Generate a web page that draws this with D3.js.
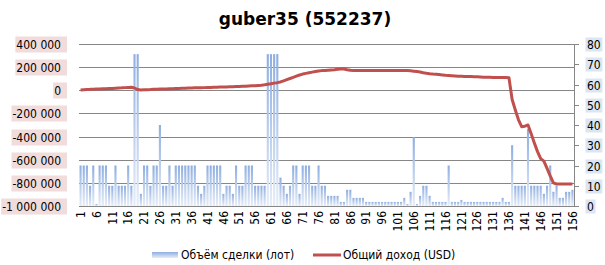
<!DOCTYPE html>
<html lang="ru">
<head>
    <meta charset="UTF-8">
    <title>guber35 (552237)</title>
    <script src="https://cdn.jsdelivr.net/npm/d3@7"></script>
    <style>
        body { margin: 0; background: #fff; }
        svg { width: 605px; height: 265px; display: block; }
        text { font-family: "DejaVu Sans Condensed", "Liberation Sans", sans-serif; font-size: 12px; fill: #000; }
    </style>
</head>
<body>
    <svg></svg>

    <script>
        // объём сделки, лоты (правая ось)
        const volume = [
            20, 20, 20, 10, 20, 1, 20, 20, 20, 10,
            10, 20, 10, 10, 10, 20, 10, 75, 75, 6,
            20, 20, 10, 20, 20, 40, 10, 10, 20, 10,
            20, 20, 20, 20, 20, 20, 20, 10, 6, 10,
            20, 20, 20, 20, 20, 6, 10, 10, 6, 20,
            10, 10, 20, 20, 20, 10, 10, 10, 10, 75,
            75, 75, 75, 14, 10, 6, 10, 20, 20, 6,
            20, 20, 20, 10, 10, 20, 10, 10, 5, 5,
            5, 5, 2, 2, 8, 8, 4, 4, 4, 4,
            2, 2, 2, 2, 2, 2, 2, 2, 2, 2,
            2, 2, 4, 1, 7, 34, 1, 5, 10, 10,
            5, 2, 2, 2, 2, 2, 20, 2, 2, 2,
            3, 2, 2, 2, 2, 2, 2, 2, 2, 2,
            2, 2, 2, 4, 2, 2, 30, 10, 10, 10,
            10, 38, 10, 10, 10, 10, 6, 10, 20, 7,
            10, 4, 4, 7, 7, 8
        ];

        // общий доход, USD (левая ось)
        const income = [
            3000, 5000, 7000, 8000, 10000, 11000, 12000, 13000, 14000, 15000,
            16000, 18000, 20000, 21000, 23000, 25000, 26000, 20000, 6000, 3000,
            4000, 5000, 6000, 8000, 10000, 11000, 12000, 12000, 13000, 14000,
            15000, 16000, 17000, 18000, 20000, 20000, 21000, 22000, 22000, 23000,
            24000, 25000, 26000, 27000, 28000, 28000, 29000, 30000, 31000, 32000,
            33000, 34000, 35000, 37000, 39000, 40000, 42000, 44000, 47000, 52000,
            57000, 62000, 66000, 72000, 82000, 92000, 102000, 112000, 122000, 132000,
            140000, 146000, 152000, 157000, 162000, 166000, 170000, 172000, 174000, 176000,
            178000, 181000, 184000, 184000, 178000, 173000, 172000, 172000, 172000, 172000,
            172000, 172000, 172000, 172000, 172000, 172000, 172000, 172000, 172000, 172000,
            172000, 172000, 172000, 171000, 168000, 165000, 162000, 158000, 152000, 147000,
            143000, 140000, 138000, 136000, 133000, 130000, 128000, 126000, 124000, 122000,
            121000, 120000, 120000, 119000, 118000, 117000, 115000, 113000, 112000, 112000,
            111000, 111000, 110000, 110000, 110000, 108000, -80000, -170000, -255000, -315000,
            -310000, -300000, -375000, -455000, -530000, -590000, -612000, -675000, -740000, -800000,
            -810000, -810000, -810000, -810000, -810000, -810000
        ];

        const categories = volume.map((d, i) => i + 1);
        const leftTicks = [-1000000, -800000, -600000, -400000, -200000, 0, 200000, 400000];
        const rightTicks = [0, 10, 20, 30, 40, 50, 60, 70, 80];
        const title = 'guber35 (552237)';
        const seriesNames = ['Объём сделки (лот)', 'Общий доход (USD)'];

        const plot = { left: 79, right: 574, top: 44, bottom: 206 };
        const svg = d3.select('svg');

        const defs = svg.append('defs');
        const grad = defs.append('linearGradient')
            .attr('id', 'barGrad')
            .attr('x1', 0).attr('y1', 0).attr('x2', 0).attr('y2', 1);
        grad.append('stop').attr('offset', '0%').attr('stop-color', '#8eaee0');
        grad.append('stop').attr('offset', '100%').attr('stop-color', '#e6edf8');

        const x = d3.scaleBand()
            .domain(categories)
            .range([plot.left, plot.right])
            .paddingInner(0.33)
            .paddingOuter(0.16);
        const yL = d3.scaleLinear().domain([-1000000, 400000]).range([plot.bottom, plot.top]);
        const yR = d3.scaleLinear().domain([0, 80]).range([plot.bottom, plot.top]);

        const fmt = d3.formatLocale({ decimal: ',', thousands: ' ', grouping: [3], currency: ['', ''], minus: '-' }).format(',d');

        // сетка
        svg.append('g')
            .selectAll('line')
            .data(leftTicks).enter().append('line')
            .attr('x1', plot.left).attr('x2', plot.right)
            .attr('y1', d => Math.round(yL(d)) + 0.5)
            .attr('y2', d => Math.round(yL(d)) + 0.5)
            .attr('stroke', '#868686')
            .attr('stroke-width', 1);

        // столбцы
        svg.append('g')
            .selectAll('rect')
            .data(volume).enter().append('rect')
            .attr('x', (d, i) => x(categories[i]))
            .attr('width', x.bandwidth())
            .attr('y', d => yR(d))
            .attr('height', d => yR(0) - yR(d))
            .attr('fill', 'url(#barGrad)');

        // линия дохода
        const line = d3.line()
            .x((d, i) => x(categories[i]) + x.bandwidth() / 2)
            .y(d => yL(d));
        svg.append('path')
            .datum(income)
            .attr('d', line)
            .attr('fill', 'none')
            .attr('stroke', '#c0504d')
            .attr('stroke-width', 3)
            .attr('stroke-linejoin', 'round');

        // правая ось
        const rAxis = svg.append('g');
        rAxis.append('line')
            .attr('x1', plot.right + 0.5).attr('x2', plot.right + 0.5)
            .attr('y1', plot.top).attr('y2', plot.bottom + 0.5)
            .attr('stroke', '#868686');
        const rTick = rAxis.selectAll('g.rt')
            .data(rightTicks).enter().append('g')
            .classed('rt', true)
            .attr('transform', d => `translate(0, ${Math.round(yR(d)) + 0.5})`);
        rTick.append('line')
            .attr('x1', plot.right).attr('x2', plot.right + 5)
            .attr('stroke', '#868686');
        rTick.append('text')
            .attr('x', 587)
            .attr('dy', '0.35em')
            .text(d => d);
        rTick.each(function () {
            const g = d3.select(this);
            const b = g.select('text').node().getBBox();
            g.insert('rect', 'text')
                .attr('x', b.x - 1.5).attr('y', -7)
                .attr('width', b.width + 3).attr('height', 14)
                .attr('fill', '#dce6f2');
        });

        // левая ось
        const lTick = svg.append('g')
            .selectAll('g.lt')
            .data(leftTicks).enter().append('g')
            .classed('lt', true)
            .attr('transform', d => `translate(0, ${Math.round(yL(d)) + 0.5})`);
        lTick.append('text')
            .attr('x', 61)
            .attr('dy', '0.35em')
            .attr('text-anchor', 'end')
            .text(d => fmt(d));
        lTick.each(function () {
            const g = d3.select(this);
            const b = g.select('text').node().getBBox();
            g.insert('rect', 'text')
                .attr('x', b.x - 1).attr('y', -8)
                .attr('width', 67 - (b.x - 1)).attr('height', 16)
                .attr('fill', '#f2dcdb');
        });

        // подписи категорий
        svg.append('g')
            .selectAll('text')
            .data(categories.filter(d => (d - 1) % 5 === 0))
            .enter().append('text')
            .attr('transform', d => `translate(${x(d) + x.bandwidth() / 2}, 211) rotate(-90)`)
            .attr('dy', '0.35em')
            .attr('text-anchor', 'end')
            .text(d => d);

        // заголовок
        svg.append('text')
            .attr('x', 305).attr('y', 25)
            .attr('text-anchor', 'middle')
            .style('font-family', '"DejaVu Sans", sans-serif')
            .style('font-weight', 'bold')
            .style('font-size', '17px')
            .text(title);

        // легенда
        const legend = svg.append('g');
        legend.append('rect')
            .attr('x', 152).attr('y', 252)
            .attr('width', 26).attr('height', 6)
            .attr('fill', 'url(#barGrad)');
        legend.append('text')
            .attr('x', 181).attr('y', 255)
            .attr('dy', '0.35em')
            .text(seriesNames[0]);
        legend.append('line')
            .attr('x1', 313).attr('x2', 341)
            .attr('y1', 255).attr('y2', 255)
            .attr('stroke', '#c0504d')
            .attr('stroke-width', 3);
        legend.append('text')
            .attr('x', 343).attr('y', 255)
            .attr('dy', '0.35em')
            .text(seriesNames[1]);
    </script>
</body>
</html>
